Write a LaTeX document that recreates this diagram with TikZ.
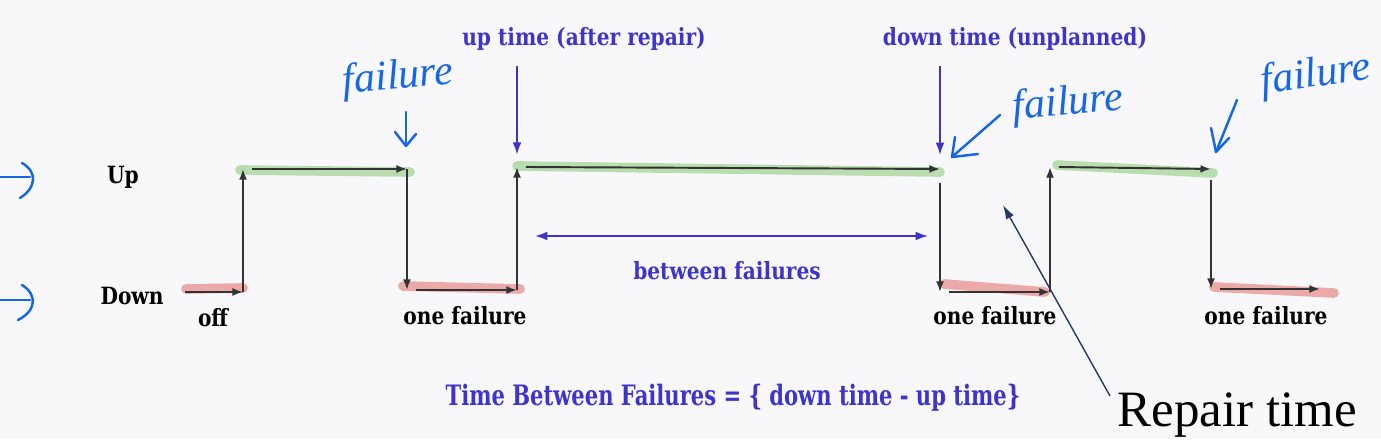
\documentclass[tikz,border=0pt]{standalone}
\usepackage{fontspec}
\setmainfont{DejaVu Serif}
\newfontfamily\lblfont{DejaVu Serif}[FakeStretch=0.85]
\newfontfamily\eqfont{DejaVu Serif}[FakeStretch=0.75]
\newfontfamily\bigfont{Liberation Serif}
\newfontfamily\handfont{Liberation Serif}
\usetikzlibrary{positioning}
\usetikzlibrary{arrows.meta}
\definecolor{annblue}{RGB}{62,52,205}
\definecolor{penblue}{RGB}{22,102,232}
\definecolor{hlgreen}{RGB}{170,215,155}
\definecolor{hlred}{RGB}{232,150,150}
\definecolor{navy}{RGB}{40,55,100}
\definecolor{paper}{RGB}{248,248,250}
\tikzset{sig/.style = {draw=black!80, line width=1.1pt, -{Latex[length=6pt,width=4.5pt]}}}
\tikzset{hlg/.style = {draw=hlgreen, opacity=0.8, line width=5.5pt, line cap=round}}
\tikzset{hlr/.style = {draw=hlred, opacity=0.8, line width=5.5pt, line cap=round}}
\tikzset{txt/.style = {font=\lblfont\bfseries\fontsize{13.5}{15}\selectfont, inner sep=0}}
\tikzset{note/.style = {font=\lblfont\bfseries\fontsize{13.5}{15}\selectfont, text=annblue, inner sep=0}}
\tikzset{pointer/.style = {draw=annblue, line width=1pt, -{Latex[length=7pt,width=5pt]}}}
\tikzset{hand/.style = {font=\handfont\itshape\fontsize{24}{26}\selectfont, text=penblue, inner sep=0}}
\tikzset{pen/.style = {draw=penblue, line width=1.4pt, line cap=round, line join=round}}

\begin{document}
\begin{tikzpicture}[x=0.02cm, y=-0.02cm]
      \fill[paper] (0,0) rectangle (1381,439);
      \useasboundingbox (0,0) rectangle (1381,439);
      % corners of the signal
      \coordinate (s0) at (185,292);
      \coordinate (c1) at (243,292);
      \coordinate (c1u) at (243,169);
      \coordinate (c2u) at (407,169);
      \coordinate (c2) at (407,290);
      \coordinate (c3) at (517,290);
      \coordinate (c3u) at (517,167);
      \coordinate (c4u) at (940,169);
      \coordinate (c4) at (940,292);
      \coordinate (c5) at (1050,292);
      \coordinate (c5u) at (1050,167);
      \coordinate (c6u) at (1211,169);
      \coordinate (c6) at (1211,289);
      \coordinate (s1) at (1320,289);
      % highlighter
      \draw[hlg] (240,170) -- (410,172);
      \draw[hlg] (517,166) -- (940,172);
      \draw[hlg] (1057,165) -- (1213,173);
      \draw[hlr] (186,289) -- (243,288);
      \draw[hlr] (403,286) -- (520,289);
      \draw[hlr] (944,284) -- (1045,292);
      \draw[hlr] (1214,287) -- (1334,293);
      % signal
      \draw[sig] (s0) -- (c1);
      \draw[sig] (c1) -- (c1u);
      \draw[sig] ([xshift=5]c1u) -- (c2u);
      \draw[sig] (c2u) -- (c2);
      \draw[sig] ([xshift=5]c2) -- (c3);
      \draw[sig] (c3) -- (c3u);
      \draw[sig] ([xshift=5]c3u) -- (c4u);
      \draw[sig] ([yshift=-8]c4u) -- (c4);
      \draw[sig] ([xshift=5]c4) -- (c5);
      \draw[sig] (c5) -- (c5u);
      \draw[sig] ([xshift=5]c5u) -- (c6u);
      \draw[sig] ([yshift=-6]c6u) -- (c6);
      \draw[sig] ([xshift=5]c6) -- (s1);
      % labels
      \node[txt] (up) at (123,177) {Up};
      \node[txt] (down) at (132,296) {Down};
      \node[txt] (off) at (213,318) {off};
      \node[txt] (f1) at (465,316) {one failure};
      \node[txt] (f2) at (995,316) {one failure};
      \node[txt] (f3) at (1266,316) {one failure};
      \node[note] (uptime) at (584,39) {up time (after repair)};
      \node[note] (downtime) at (1015,39) {down time (unplanned)};
      \node[note] (between) at (727,271) {between failures};
      \node[font=\eqfont\bfseries\fontsize{16}{18}\selectfont, text=annblue, inner sep=0] (tbf) at (733,398)
        {Time Between Failures = \{ down time - up time\}};
      \node[font=\bigfont\fontsize{29}{32}\selectfont, inner sep=0] (repair) at (1237,415) {Repair time};
      % pointers
      \coordinate (ut) at (517,66);
      \coordinate (dt) at (940,66);
      \coordinate (bf1) at (535,236);
      \coordinate (bf2) at (928,236);
      \coordinate (rp) at (1110,396);
      \coordinate (rq) at (1003,205);
      \draw[pointer] (ut) -- ([yshift=7]c3u);
      \draw[pointer] (dt) -- ([yshift=8]c4u);
      \draw[pointer, {Latex[length=7pt,width=5pt]}-{Latex[length=7pt,width=5pt]}] (bf1) -- (bf2);
      \draw[draw=navy, line width=0.8pt, -{Latex[length=8pt,width=5pt]}] (rp) -- (rq);
      % pen notes
      \node[hand, rotate=5] (h1) at (398,78) {failure};
      \node[hand, rotate=5] (h2) at (1068,104) {failure};
      \node[hand, rotate=8] (h3) at (1316,76) {failure};
      \coordinate (a1) at (406,112);
      \coordinate (a1e) at (406,146);
      \coordinate (a2) at (1000,115);
      \coordinate (a2e) at (952,157);
      \coordinate (a3) at (1237,100);
      \coordinate (a3e) at (1216,152);
      \draw[pen] (a1) -- (a1e);
      \draw[pen] (395,132) -- (a1e) -- (416,134);
      \draw[pen] (a2) -- (a2e);
      \draw[pen] (955,137) -- (a2e) -- (978,154);
      \draw[pen] (a3) -- (a3e);
      \draw[pen] (1211,128) -- (a3e) -- (1229,138);
      \coordinate (m1) at (0,177);
      \coordinate (m1e) at (30,177);
      \coordinate (m2) at (0,300);
      \coordinate (m2e) at (30,300);
      \draw[pen] (m1) -- (m1e);
      \draw[pen] (22,163) .. controls (38,172) and (36,188) .. (20,198);
      \draw[pen] (m2) -- (m2e);
      \draw[pen] (22,285) .. controls (38,295) and (36,311) .. (18,320);
    \end{tikzpicture}
\end{document}
